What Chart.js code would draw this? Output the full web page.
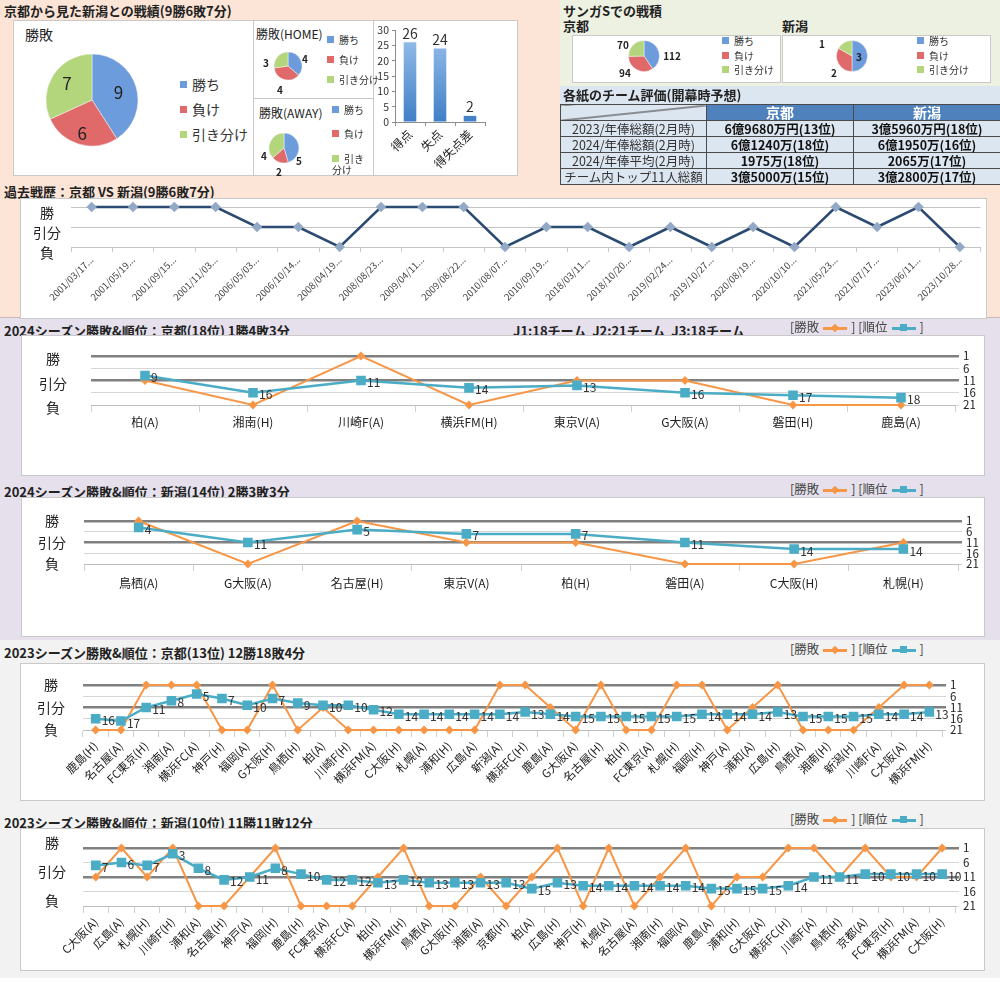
<!DOCTYPE html>
<html lang="ja">
<head>
<meta charset="UTF-8">
<title>京都から見た新潟との戦績</title>
<script src="https://cdn.jsdelivr.net/npm/chart.js"></script>
<style>
body{margin:0;width:1000px;height:998px;position:relative;overflow:hidden;background:#fff;font-family:"Noto Sans CJK JP","Noto Sans",sans-serif;color:#222;}
.bg{position:absolute;}
.ttl{position:absolute;font-size:13px;font-weight:bold;white-space:nowrap;line-height:16px;}
.box{position:absolute;background:#fff;border:1px solid #c9c9c9;box-sizing:border-box;}
.sub{position:absolute;white-space:nowrap;color:#222;}
canvas{position:absolute;}
.lg{position:absolute;font-size:12.5px;color:#444;white-space:nowrap;line-height:16px;}
.sw{display:inline-block;position:relative;width:24px;height:2.5px;vertical-align:middle;margin:0 4px;}
.sw i{position:absolute;left:8px;top:-3px;width:7px;height:7px;}
.sw.o{background:#f79646}.sw.o i{background:#f79646;transform:rotate(45deg);width:6px;height:6px;left:9px;top:-2px}
.sw.t{background:#4bacc6}.sw.t i{background:#4bacc6}
.pl{position:absolute;white-space:nowrap;color:#333;}
.pl b{display:inline-block;width:7px;height:7px;margin-right:5px;vertical-align:middle;position:relative;top:-1px;}
table.ev{position:absolute;left:560px;top:104px;width:440px;border-collapse:collapse;table-layout:fixed;font-size:12.5px;}
table.ev td,table.ev th{border:1px solid #4a4a4a;height:15px;padding:0;text-align:center;line-height:15px;background:#dce6f1;white-space:nowrap;}
table.ev th{background:#4f81bd;color:#fff;font-size:14px;}
table.ev th.diag{background:linear-gradient(to bottom right,#dce6f1 calc(50% - 1px),#333 50%,#dce6f1 calc(50% + 1px));}
table.ev td{font-weight:bold;color:#111;}
table.ev td.h{font-weight:normal;color:#333;}
</style>
</head>
<body>
<!-- section backgrounds -->
<div class="bg" style="left:0;top:0;width:1000px;height:318px;background:#fce4d6;border-bottom:1px solid #c8b8ad;box-sizing:border-box"></div>
<div class="bg" style="left:560px;top:0;width:440px;height:86px;background:#edf1e2"></div>
<div class="bg" style="left:560px;top:86px;width:440px;height:18px;background:#dce6f1"></div>
<div class="bg" style="left:0;top:318px;width:1000px;height:322px;background:#e5e0ec"></div>
<div class="bg" style="left:0;top:640px;width:1000px;height:338px;background:#f2f2f2"></div>

<!-- top left -->
<div class="ttl" style="left:4px;top:3px">京都から見た新潟との戦績(9勝6敗7分)</div>
<div class="box" style="left:13px;top:20px;width:241px;height:156px"></div>
<div class="sub" style="left:25px;top:24px;font-size:14px">勝敗</div>
<canvas id="pieAll" width="100" height="100" style="left:42px;top:50px"></canvas>
<div class="box" style="left:253px;top:20px;width:121px;height:79px"></div>
<div class="sub" style="left:256px;top:25px;font-size:12px">勝敗(HOME)</div>
<canvas id="pieHome" width="70" height="64" style="left:253px;top:34px"></canvas>
<div class="box" style="left:253px;top:98px;width:121px;height:78px"></div>
<div class="sub" style="left:259px;top:104px;font-size:12px">勝敗(AWAY)</div>
<canvas id="pieAway" width="70" height="56" style="left:249px;top:120px"></canvas>
<div class="box" style="left:373px;top:20px;width:145px;height:156px"></div>
<canvas id="goalBar" width="144" height="155" style="left:373px;top:20px"></canvas>

<!-- top right -->
<div class="ttl" style="left:563px;top:3px">サンガSでの戦積</div>
<div class="ttl" style="left:563px;top:18px">京都</div>
<div class="ttl" style="left:782px;top:18px">新潟</div>
<div class="box" style="left:572px;top:35px;width:209px;height:48px"></div>
<div class="box" style="left:782px;top:35px;width:209px;height:48px"></div>
<canvas id="pieSangaK" width="120" height="64" style="left:584px;top:24px"></canvas>
<canvas id="pieSangaN" width="120" height="64" style="left:792px;top:24px"></canvas>
<div class="ttl" style="left:563px;top:87px">各紙のチーム評価(開幕時予想)</div>
<table class="ev" id="evTable"></table>

<!-- past record -->
<div class="ttl" style="left:4px;top:184px">過去戦歴：京都 VS 新潟(9勝6敗7分)</div>
<div class="box" style="left:20px;top:198px;width:967px;height:121px"></div>
<canvas id="past" width="967" height="120" style="left:20px;top:198px"></canvas>

<!-- 2024 -->
<div class="ttl" style="left:4px;top:323px">2024シーズン勝敗&amp;順位：京都(18位) 1勝4敗3分</div>
<div class="ttl" style="left:513px;top:323px">J1:18チーム&nbsp;&nbsp;J2:21チーム&nbsp;&nbsp;J3:18チーム</div>
<div class="lg" style="left:790px;top:319px">[勝敗<span class="sw o"><i></i></span>] [順位<span class="sw t"><i></i></span>]</div>
<div class="box" style="left:21px;top:335px;width:964px;height:141px"></div>
<canvas id="k24" width="964" height="140" style="left:21px;top:335px"></canvas>

<div class="ttl" style="left:4px;top:484px">2024シーズン勝敗&amp;順位：新潟(14位) 2勝3敗3分</div>
<div class="lg" style="left:790px;top:481px">[勝敗<span class="sw o"><i></i></span>] [順位<span class="sw t"><i></i></span>]</div>
<div class="box" style="left:21px;top:497px;width:964px;height:140px"></div>
<canvas id="n24" width="964" height="139" style="left:21px;top:497px"></canvas>

<!-- 2023 -->
<div class="ttl" style="left:4px;top:645px">2023シーズン勝敗&amp;順位：京都(13位) 12勝18敗4分</div>
<div class="lg" style="left:790px;top:641px">[勝敗<span class="sw o"><i></i></span>] [順位<span class="sw t"><i></i></span>]</div>
<div class="box" style="left:20px;top:663px;width:965px;height:138px"></div>
<canvas id="k23" width="965" height="137" style="left:20px;top:663px"></canvas>

<div class="ttl" style="left:4px;top:815px">2023シーズン勝敗&amp;順位：新潟(10位) 11勝11敗12分</div>
<div class="lg" style="left:790px;top:811px">[勝敗<span class="sw o"><i></i></span>] [順位<span class="sw t"><i></i></span>]</div>
<div class="box" style="left:20px;top:828px;width:965px;height:143px"></div>
<canvas id="n23" width="965" height="142" style="left:20px;top:828px"></canvas>

<script>
// ---- data ----
const outcomeLabels = ['勝ち', '負け', '引き分け'];
const h2hTotal = [9, 6, 7];
const h2hHome = [4, 4, 3];
const h2hAway = [5, 2, 4];
const goalCats = ['得点', '失点', '得失点差'];
const goalValues = [26, 24, 2];
const sangaKyoto = [112, 94, 70];
const sangaNiigata = [3, 2, 1];

const evCols = ['京都', '新潟'];
const evRows = ['2023/年俸総額(2月時)', '2024/年俸総額(2月時)', '2024/年俸平均(2月時)', 'チーム内トップ11人総額'];
const evKyoto = ['6億9680万円(13位)', '6億1240万(18位)', '1975万(18位)', '3億5000万(15位)'];
const evNiigata = ['3億5960万円(18位)', '6億1950万(16位)', '2065万(17位)', '3億2800万(17位)'];

const pastDates = ['2001/03/17...', '2001/05/19...', '2001/09/15...', '2001/11/03...', '2006/05/03...', '2006/10/14...',
  '2008/04/19...', '2008/08/23...', '2009/04/11...', '2009/08/22...', '2010/08/07...', '2010/09/19...',
  '2018/03/11...', '2018/10/20...', '2019/02/24...', '2019/10/27...', '2020/08/19...', '2020/10/10...',
  '2021/05/23...', '2021/07/17...', '2023/06/11...', '2023/10/28...'];
const pastResults = ['勝', '勝', '勝', '勝', '分', '分', '負', '勝', '勝', '勝', '負', '分', '分', '負', '分', '負', '分', '負', '勝', '分', '勝', '負'];

const k24Cats = ['柏(A)', '湘南(H)', '川崎F(A)', '横浜FM(H)', '東京V(A)', 'G大阪(A)', '磐田(H)', '鹿島(A)'];
const k24Results = ['分', '負', '勝', '負', '分', '分', '負', '負'];
const k24Ranks = [9, 16, 11, 14, 13, 16, 17, 18];

const n24Cats = ['鳥栖(A)', 'G大阪(A)', '名古屋(H)', '東京V(A)', '柏(H)', '磐田(A)', 'C大阪(H)', '札幌(H)'];
const n24Results = ['勝', '負', '勝', '分', '分', '負', '負', '分'];
const n24Ranks = [4, 11, 5, 7, 7, 11, 14, 14];

const k23Cats = ['鹿島(H)', '名古屋(A)', 'FC東京(H)', '湘南(A)', '横浜FC(A)', '神戸(H)', '福岡(A)', 'G大阪(H)', '鳥栖(H)',
  '柏(A)', '川崎F(H)', '横浜FM(A)', 'C大阪(H)', '札幌(A)', '浦和(H)', '広島(A)', '新潟(A)', '横浜FC(H)', '鹿島(A)',
  'G大阪(A)', '名古屋(H)', '柏(H)', 'FC東京(A)', '札幌(H)', '福岡(H)', '神戸(A)', '浦和(A)', '広島(H)', '鳥栖(A)',
  '湘南(H)', '新潟(H)', '川崎F(A)', 'C大阪(A)', '横浜FM(H)'];
const k23Results = ['負', '負', '勝', '勝', '勝', '負', '負', '勝', '負', '分', '負', '負', '負', '負', '負', '負', '勝',
  '勝', '分', '負', '勝', '負', '負', '勝', '勝', '負', '分', '勝', '負', '負', '負', '分', '勝', '勝'];
const k23Ranks = [16, 17, 11, 8, 5, 7, 10, 7, 9, 10, 10, 12, 14, 14, 14, 14, 14, 13, 14, 15, 15, 15, 15, 15, 14, 14, 14,
  13, 15, 15, 15, 14, 14, 13];

const n23Cats = ['C大阪(A)', '広島(A)', '札幌(H)', '川崎F(H)', '浦和(A)', '名古屋(H)', '神戸(A)', '福岡(H)', '鹿島(H)',
  'FC東京(A)', '横浜FC(A)', '柏(H)', '横浜FM(H)', '鳥栖(A)', 'G大阪(H)', '湘南(A)', '京都(H)', '柏(A)', '広島(H)',
  '神戸(H)', '札幌(A)', '名古屋(A)', '湘南(H)', '福岡(A)', '鹿島(A)', '浦和(H)', 'G大阪(A)', '横浜FC(H)', '川崎F(A)',
  '鳥栖(H)', '京都(A)', 'FC東京(H)', '横浜FM(A)', 'C大阪(H)'];
const n23Results = ['分', '勝', '分', '勝', '負', '負', '分', '勝', '負', '負', '負', '分', '勝', '負', '負', '分', '負',
  '分', '勝', '負', '勝', '負', '分', '勝', '負', '分', '分', '勝', '勝', '分', '勝', '分', '分', '勝'];
const n23Ranks = [7, 6, 7, 3, 8, 12, 11, 8, 10, 12, 12, 13, 12, 13, 13, 13, 13, 15, 13, 14, 14, 14, 14, 14, 15, 15, 15,
  14, 11, 11, 10, 10, 10, 10];

const resultValue = {'勝': 2, '分': 1, '負': 0};
const resultText = ['負', '引分', '勝'];

// ---- styles ----
const pieColors = ['#6c9cdc', '#e06a6a', '#b3d57c'];
Chart.defaults.font.family = '"Noto Sans CJK JP", "Noto Sans", sans-serif';

// values drawn next to pie slices (pos: label offset from the pie centre, else along the slice)
const sliceLabels = {
  id: 'sliceLabels',
  afterDatasetsDraw(chart, args, opts) {
    const meta = chart.getDatasetMeta(0);
    const data = chart.data.datasets[0].data;
    const ctx = chart.ctx;
    ctx.save();
    ctx.font = opts.weight + ' ' + opts.size + 'px "Noto Sans CJK JP", sans-serif';
    ctx.fillStyle = '#222';
    ctx.strokeStyle = '#666';
    ctx.lineWidth = 0.8;
    ctx.textAlign = 'center';
    ctx.textBaseline = 'middle';
    meta.data.forEach((arc, i) => {
      let x, y;
      if (opts.pos) {
        x = arc.x + opts.pos[i][0];
        y = arc.y + opts.pos[i][1];
      } else {
        const a = (arc.startAngle + arc.endAngle) / 2;
        const r = arc.outerRadius * opts.dist[i];
        x = arc.x + Math.cos(a) * r;
        y = arc.y + Math.sin(a) * r;
      }
      ctx.fillText(String(data[i]), x, y);
      if (opts.leader && opts.leader[i]) {
        const l = opts.leader[i];
        ctx.beginPath();
        ctx.moveTo(arc.x + l[0], arc.y + l[1]);
        ctx.lineTo(arc.x + l[2], arc.y + l[3]);
        ctx.stroke();
      }
    });
    ctx.restore();
  }
};

// values drawn beside points / above bars
const pointLabels = {
  id: 'pointLabels',
  afterDatasetsDraw(chart, args, opts) {
    const meta = chart.getDatasetMeta(opts.dataset);
    const data = chart.data.datasets[opts.dataset].data;
    const ctx = chart.ctx;
    ctx.save();
    ctx.font = opts.size + 'px "Noto Sans CJK JP", sans-serif';
    ctx.fillStyle = '#333';
    ctx.textAlign = opts.align;
    ctx.textBaseline = opts.baseline;
    meta.data.forEach((el, i) => {
      ctx.fillText(String(data[i]), el.x + opts.dx, el.y + opts.dy);
    });
    ctx.restore();
  }
};

function pie(id, values, radius, lab) {
  return new Chart(document.getElementById(id), {
    type: 'pie',
    data: {labels: outcomeLabels, datasets: [{data: values, backgroundColor: pieColors, borderColor: '#f4f4f4', borderWidth: 0.5}]},
    options: {
      responsive: false, animation: false, events: [], radius: radius,
      plugins: {legend: {display: false}, tooltip: {enabled: false}, sliceLabels: lab}
    },
    plugins: [sliceLabels]
  });
}

function pieLegend(x, ys, size, wrap) {
  outcomeLabels.forEach((lab, i) => {
    const d = document.createElement('div');
    d.className = 'pl';
    d.style.left = x + 'px';
    d.style.top = (ys[i] - size * 0.75) + 'px';
    d.style.fontSize = size + 'px';
    d.style.lineHeight = (size + 1) + 'px';
    if (wrap) { d.style.whiteSpace = 'normal'; d.style.width = wrap + 'px'; }
    d.innerHTML = '<b style="background:' + pieColors[i] + '"></b>' + lab;
    document.body.appendChild(d);
  });
}

pie('pieAll', h2hTotal, 46, {dist: [0.6, 0.75, 0.65], size: 17, weight: 'normal'});
pieLegend(180, [87, 112, 137], 14);
pie('pieHome', h2hHome, 14, {pos: [[17, -7], [-8, 24], [-22, -3]], size: 10, weight: 'bold'});
pieLegend(327, [41, 61, 81], 10);
pie('pieAway', h2hAway, 15, {pos: [[15, 13], [-5, 24], [-20, 8]], size: 10, weight: 'bold'});
pieLegend(332, [111, 135, 160], 10, 38);
pie('pieSangaK', sangaKyoto, 15.5, {pos: [[28, 0], [-19, 17], [-21, -11]], size: 10, weight: 'bold',
  leader: [null, [-13, 15], null]});
pieLegend(722, [42, 57, 71], 10);
pie('pieSangaN', sangaNiigata, 15.5, {pos: [[7, 1], [-18, 17], [-30, -12]], size: 10, weight: 'bold',
  leader: [null, null, [-24, -10], [-8, -13]]});
pieLegend(917, [42, 57, 71], 10);

// goals bar
new Chart(document.getElementById('goalBar'), {
  type: 'bar',
  data: {labels: goalCats, datasets: [{data: goalValues, barPercentage: 0.42, categoryPercentage: 1,
    backgroundColor: (c) => {
      const area = c.chart.chartArea;
      if (!area) return '#6fa1dc';
      const g = c.chart.ctx.createLinearGradient(0, area.bottom, 0, area.top);
      g.addColorStop(0, '#3f7fc6');
      g.addColorStop(1, '#9cc2ec');
      return g;
    }}]},
  options: {
    responsive: false, animation: false, events: [],
    layout: {padding: {top: 10, right: 32, left: 0, bottom: 0}},
    plugins: {legend: {display: false}, tooltip: {enabled: false},
      pointLabels: {dataset: 0, size: 14, dx: 0, dy: -2, align: 'center', baseline: 'bottom'}},
    scales: {
      x: {grid: {offset: true, drawOnChartArea: false, tickLength: 4, color: '#8c8c8c'}, border: {color: '#8c8c8c'},
        ticks: {minRotation: 45, maxRotation: 45, font: {size: 12}, color: '#222', padding: 1},
        afterFit: s => { s.height = 53; }},
      y: {min: 0, max: 30, ticks: {stepSize: 5, autoSkip: false, font: {size: 10.5}, color: '#333', padding: 3},
        grid: {drawOnChartArea: false, tickLength: 3, color: '#8c8c8c'}, border: {color: '#8c8c8c'},
        afterFit: s => { s.width = 22; s.paddingTop = 0; s.paddingBottom = 0; }}
    }
  },
  plugins: [pointLabels]
});

// evaluation table
const tbl = document.getElementById('evTable');
let html = '<colgroup><col style="width:146px"><col style="width:147px"><col style="width:147px"></colgroup>';
html += '<tr><th class="diag"></th>' + evCols.map(c => '<th>' + c + '</th>').join('') + '</tr>';
evRows.forEach((r, i) => {
  html += '<tr><td class="h">' + r + '</td><td>' + evKyoto[i] + '</td><td>' + evNiigata[i] + '</td></tr>';
});
tbl.innerHTML = html;

// past head-to-head
new Chart(document.getElementById('past'), {
  type: 'line',
  data: {labels: pastDates, datasets: [{data: pastResults.map(r => resultValue[r]), borderColor: '#2b4a72', clip: false,
    borderWidth: 2.5, pointStyle: 'rectRot', pointRadius: 3.5, pointBackgroundColor: '#93a9c6', pointBorderColor: '#93a9c6'}]},
  options: {
    responsive: false, animation: false, events: [],
    layout: {padding: {top: 9, left: 0, right: 1, bottom: 0}},
    plugins: {legend: {display: false}, tooltip: {enabled: false}},
    scales: {
      x: {offset: true, grid: {offset: true, drawOnChartArea: false, tickLength: 5, color: '#c8c8c8'}, border: {display: false},
        ticks: {minRotation: 45, maxRotation: 45, autoSkip: false, font: {size: 9.5}, color: '#444', padding: 2},
        afterFit: s => { s.height = 71; s.paddingLeft = 0; s.paddingRight = 0; }},
      y: {min: 0, max: 2, ticks: {stepSize: 1, autoSkip: false, callback: v => resultText[v], font: {size: 14}, color: '#222',
          padding: 10, crossAlign: 'center', labelOffset: 6},
        grid: {color: '#c4c4c4', drawTicks: false}, border: {display: false},
        afterFit: s => { s.width = 51; s.paddingTop = 0; s.paddingBottom = 0; }}
    }
  }
});

function seasonChart(id, cats, results, ranks, g) {
  const major = v => v === 1 || v === 11;
  return new Chart(document.getElementById(id), {
    type: 'line',
    data: {labels: cats, datasets: [
      {label: '順位', data: ranks, yAxisID: 'y2', borderColor: '#4bacc6', backgroundColor: '#4bacc6', clip: false,
        borderWidth: 2.5, pointStyle: 'rect', pointRadius: 5, order: 0},
      {label: '勝敗', data: results.map(r => resultValue[r]), yAxisID: 'y', borderColor: '#f79646', backgroundColor: '#f79646',
        clip: false, borderWidth: 2, pointStyle: 'rectRot', pointRadius: 3, order: 1}
    ]},
    options: {
      responsive: false, animation: false, events: [],
      layout: {padding: {top: g.top, left: 0, right: 0, bottom: 0}},
      plugins: {legend: {display: false}, tooltip: {enabled: false},
        pointLabels: {dataset: 0, size: g.lab, dx: 6, dy: 2, align: 'left', baseline: 'middle'}},
      scales: {
        x: {offset: true, grid: {offset: true, drawOnChartArea: false, tickLength: 7, color: '#d0d0d0'}, border: {color: '#bcbcbc'},
          ticks: {minRotation: g.rot, maxRotation: g.rot, autoSkip: false, font: {size: g.xfont}, color: '#222', padding: g.xpad},
          afterFit: s => { s.height = g.xh; s.paddingLeft = 0; s.paddingRight = 0; }},
        y: {position: 'left', min: 0, max: 2,
          ticks: {stepSize: 1, autoSkip: false, callback: v => resultText[v], font: {size: 14}, color: '#222',
            padding: g.lpad, crossAlign: 'center', labelOffset: g.loff},
          grid: {display: false, drawTicks: false}, border: {display: false},
          afterFit: s => { s.width = g.yw; s.paddingTop = 0; s.paddingBottom = 0; }},
        y2: {position: 'right', reverse: true, min: 1, max: 21,
          ticks: {stepSize: 5, autoSkip: false, font: {size: 11.5}, color: '#222', padding: 4},
          grid: {color: c => major(c.tick.value) ? '#808080' : '#d6d6d6', lineWidth: c => major(c.tick.value) ? 2.5 : 1,
            tickLength: 4},
          border: {display: false},
          afterFit: s => { s.width = g.y2w; s.paddingTop = 0; s.paddingBottom = 0; }}
      }
    },
    plugins: [pointLabels]
  });
}

seasonChart('k24', k24Cats, k24Results, k24Ranks, {top: 21, xh: 70, yw: 70, y2w: 30, rot: 0, xfont: 12, xpad: 3, lab: 12, lpad: 24, loff: 3});
seasonChart('n24', n24Cats, n24Results, n24Ranks, {top: 24, xh: 72, yw: 63, y2w: 27, rot: 0, xfont: 12, xpad: 5, lab: 12, lpad: 18, loff: 0});
seasonChart('k23', k23Cats, k23Results, k23Ranks, {top: 22, xh: 70, yw: 63, y2w: 43, rot: 45, xfont: 11.5, xpad: 2, lab: 12, lpad: 18, loff: 0});
seasonChart('n23', n23Cats, n23Results, n23Ranks, {top: 20, xh: 64, yw: 63, y2w: 30, rot: 45, xfont: 11.5, xpad: 2, lab: 12, lpad: 17, loff: -5});
</script>
</body>
</html>
